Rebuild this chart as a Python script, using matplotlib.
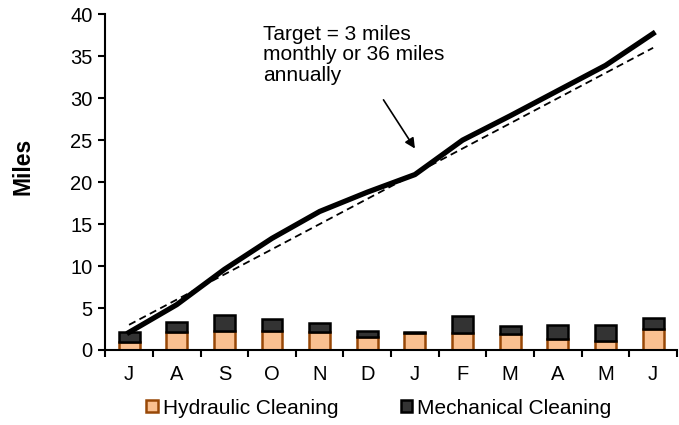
import numpy as np
import matplotlib.pyplot as plt
from matplotlib.patches import Patch

plt.rcParams['font.family'] = ['Liberation Sans', 'DejaVu Sans']

months = ['J', 'A', 'S', 'O', 'N', 'D', 'J', 'F', 'M', 'A', 'M', 'J']
hydraulic = [1.0, 2.1, 2.3, 2.3, 2.1, 1.5, 2.05, 2.05, 1.9, 1.25, 1.1, 2.5]
mechanical = [1.1, 1.2, 1.9, 1.4, 1.1, 0.8, 0.1, 2.05, 1.0, 1.75, 1.9, 1.3]
cumulative = [2.1, 5.4, 9.6, 13.3, 16.5, 18.8, 20.9, 25.0, 27.9, 30.9, 33.9, 37.7]
target = [3, 6, 9, 12, 15, 18, 21, 24, 27, 30, 33, 36]

fs = 14.5
fig = plt.figure(figsize=(6.79, 4.25), dpi=100)
ax = fig.add_axes([0.155, 0.1765, 0.842, 0.79])

x = np.arange(len(months))
ax.bar(x, hydraulic, 0.44, color='#FAC090', edgecolor='#984807', lw=1.8, zorder=2)
ax.bar(x, mechanical, 0.44, bottom=hydraulic, color='#333333', edgecolor='black',
       lw=1.8, zorder=2)
ax.plot(x, cumulative, color='black', lw=3.8, zorder=3)
ax.plot(x, target, color='black', lw=1.3, ls=(0, (4, 2.5)), zorder=3)

# note and its arrow
ax.text(2.82, 38.7, 'Target = 3 miles\nmonthly or 36 miles\nannually', fontsize=15,
        va='top', ha='left', linespacing=1.08)
ax.annotate('', xy=(6.0, 24.0), xytext=(5.34, 29.8),
            arrowprops=dict(arrowstyle='-|>', color='black', lw=1.2,
                            mutation_scale=15, shrinkA=0, shrinkB=0))

ax.set_xlim(-0.5, 11.5)
ax.set_ylim(0, 40)
ax.set_yticks(range(0, 41, 5))
ax.set_xticks(x)
ax.set_xticklabels(months)
ax.set_xticks(np.arange(-0.5, 12, 1), minor=True)
ax.tick_params(axis='x', which='major', length=0, pad=11, labelsize=fs)
ax.tick_params(axis='x', which='minor', length=5, width=1.5, direction='out')
ax.tick_params(axis='y', length=5, width=1.5, direction='out', labelsize=fs, pad=4)
for s in ['top', 'right']:
    ax.spines[s].set_visible(False)
for s in ['left', 'bottom']:
    ax.spines[s].set_linewidth(1.5)
ax.set_ylabel('Miles', fontsize=16.5, fontweight='bold', va='center')
ax.yaxis.set_label_coords(-0.143, 0.547)

handles = [Patch(facecolor='#FAC090', edgecolor='#984807', lw=1.8, label='Hydraulic Cleaning'),
           Patch(facecolor='#333333', edgecolor='black', lw=1.8, label='Mechanical Cleaning')]
fig.legend(handles=handles, loc='center', bbox_to_anchor=(0.558, 0.04), ncol=2,
           frameon=False, fontsize=15, handlelength=0.55, handleheight=0.55,
           handletextpad=0.25, columnspacing=3.0)

fig.savefig('out.png')
